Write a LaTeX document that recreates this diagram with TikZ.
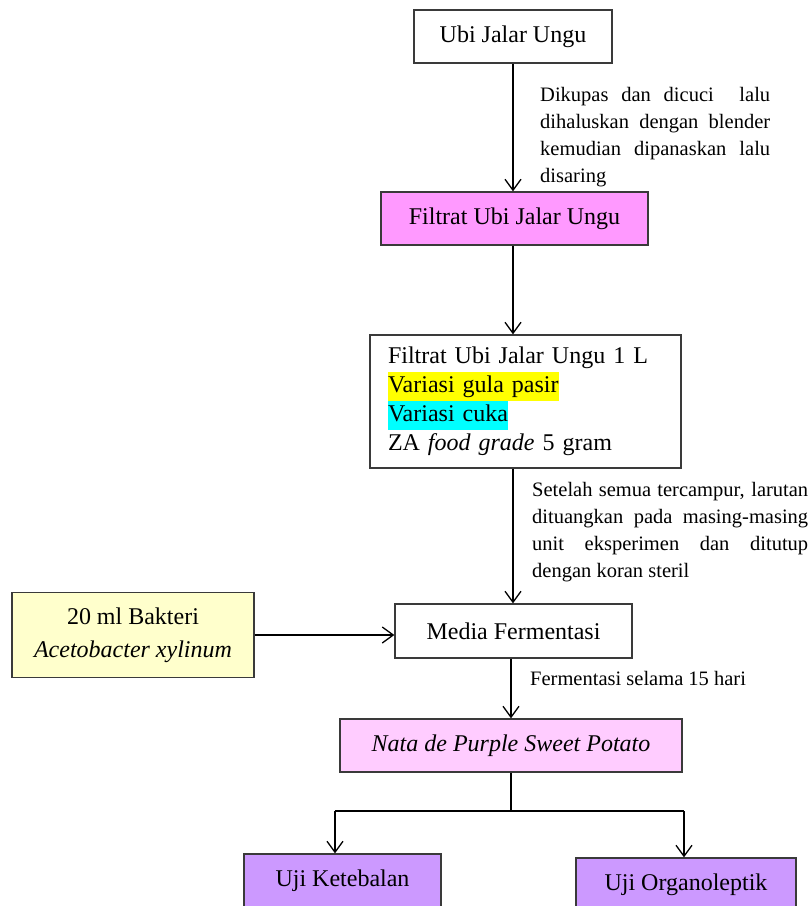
\documentclass[tikz,border=0pt]{standalone}
\usepackage{fontspec}
\setmainfont{Liberation Serif}
\usetikzlibrary{arrows.meta,calc}
\definecolor{boxline}{HTML}{3A3A3A}
\definecolor{filfill}{HTML}{FF99FF}
\definecolor{natafill}{HTML}{FFCCFF}
\definecolor{ujifill}{HTML}{CC99FF}
\definecolor{bakfill}{HTML}{FFFFCC}
\definecolor{hlyellow}{HTML}{FFFF00}
\definecolor{hlcyan}{HTML}{00FFFF}
\begin{document}
\begin{tikzpicture}[x=1pt,y=-1pt,
  box/.style={draw=boxline,line width=1.3pt,inner sep=0pt,font=\fontsize{24}{29}\selectfont,align=center},
  lbl/.style={inner sep=0pt,font=\fontsize{20.5}{27}\selectfont,align=justify,anchor=north west},
  arr/.style={line width=1.3pt,-{Straight Barb[length=11pt,width=16pt,line width=1.3pt]}},
  ln/.style={line width=1.3pt}]
\useasboundingbox (0,0) rectangle (808,906);
\clip (0,0) rectangle (808,906);

% labels (drawn first so boxes cover them)
\node[lbl,text width=230pt] (l1) at (540,87) {Dikupas dan dicuci \ lalu\linebreak dihaluskan dengan blender\linebreak kemudian dipanaskan lalu\linebreak disaring};
\node[lbl,text width=276pt] (l2) at (532,482) {Setelah semua tercampur, larutan\linebreak dituangkan pada masing-masing\linebreak unit eksperimen dan ditutup\linebreak dengan koran steril};
\node[inner sep=0pt,font=\fontsize{20.5}{27}\selectfont,anchor=base west] (l3) at (530,685) {Fermentasi selama 15 hari};

% boxes
\node[box,fill=white,minimum width=198pt,minimum height=53pt] (ubi) at (513,36.5) {Ubi Jalar Ungu};
\node[box,fill=filfill,minimum width=267pt,minimum height=53pt] (fil) at (514.5,218.5) {Filtrat Ubi Jalar Ungu};
\node[box,fill=white,minimum width=311pt,minimum height=133pt,text width=275pt,align=left] (mix) at (525.5,401.5)
  {Filtrat Ubi Jalar Ungu 1 L\\
   {\fboxsep=0pt\colorbox{hlyellow}{\strut Variasi gula pasir}}\\
   {\fboxsep=0pt\colorbox{hlcyan}{\strut Variasi cuka}}\\
   ZA \textit{food grade} 5 gram};
\node[box,fill=white,minimum width=237pt,minimum height=54pt] (med) at (513.5,631) {Media Fermentasi};
\node[box,fill=bakfill,minimum width=242pt,minimum height=85pt,font=\fontsize{24}{33}\selectfont] (bak) at (133,635) {20 ml Bakteri\\ \textit{Acetobacter xylinum}};
\node[box,fill=natafill,minimum width=342pt,minimum height=53pt] (nata) at (511,745.5) {\textit{Nata de Purple Sweet Potato}};
\node[box,fill=ujifill,minimum width=197pt,minimum height=54pt] (ket) at (342.5,881) {Uji Ketebalan};
\node[box,fill=ujifill,minimum width=220pt,minimum height=54pt] (org) at (686,885) {Uji Organoleptik};

% connectors
\draw[arr] (ubi.south) -- (ubi.south |- fil.north);
\draw[arr] (fil.south -| ubi.south) -- (mix.north -| ubi.south);
\draw[arr] (mix.south -| ubi.south) -- (med.north -| ubi.south);
\draw[arr] (bak.east) -- (bak.east -| med.west);
\draw[arr] (med.south -| nata.north) -- (nata.north);
\coordinate (bl) at (335,811);
\coordinate (brr) at (684,811);
\draw[ln] (nata.south) -- (nata.south |- bl);
\draw[ln] (bl) -- (brr);
\draw[arr] (bl) -- (bl |- ket.north);
\draw[arr] (brr) -- (brr |- org.north);
\end{tikzpicture}
\end{document}
